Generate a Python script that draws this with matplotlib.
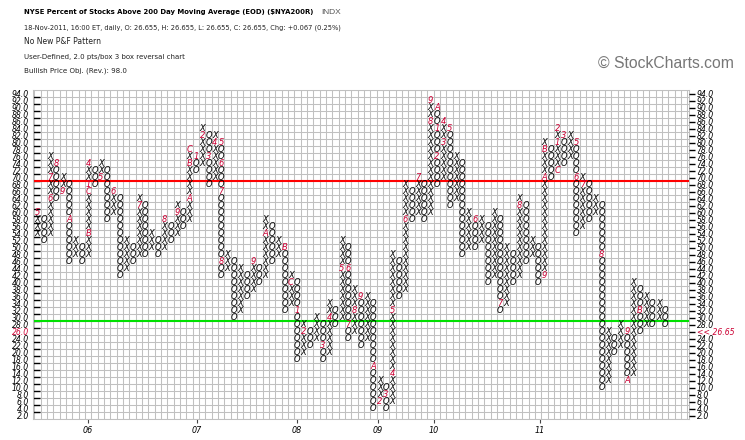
import matplotlib
matplotlib.use("Agg")
import matplotlib.pyplot as plt
from matplotlib import font_manager as fm
import numpy as np

# ---------------- data ----------------
# point & figure columns: kind, lowest box, highest box (box size 2.0)
col_kind = list("XOXOXOXOXOXOXOXOXOXOXOXOXOXOXOXOXOXOXOXOXOXOXOXOXO"
                "XOXOXOXOXOXOXOXOXOXOXOXOXOXOXOXOXOXOXOXOXOXOXOXOXO")
col_low = [54, 52, 54, 64, 66, 46, 48, 46, 48, 68,
           70, 58, 60, 42, 44, 46, 48, 48, 50, 48,
           50, 52, 54, 56, 58, 72, 74, 68, 70, 42,
           44, 30, 32, 36, 38, 40, 42, 46, 48, 32,
           34, 18, 20, 22, 24, 18, 20, 28, 30, 24,
           26, 22, 24, 4, 6, 4, 6, 36, 38, 58,
           60, 58, 60, 68, 70, 62, 64, 48, 50, 50,
           52, 40, 42, 32, 34, 40, 42, 46, 48, 40,
           42, 70, 72, 74, 76, 54, 56, 58, 60, 10,
           12, 20, 22, 12, 14, 26, 28, 28, 30, 28]
col_high = [60, 58, 76, 74, 70, 68, 52, 50, 74, 72,
            74, 72, 66, 64, 52, 50, 64, 62, 54, 52,
            58, 56, 62, 60, 78, 76, 84, 82, 82, 80,
            48, 46, 44, 42, 46, 44, 58, 56, 52, 50,
            42, 40, 28, 26, 30, 28, 34, 32, 52, 50,
            38, 36, 36, 34, 12, 10, 48, 46, 68, 66,
            70, 68, 92, 90, 86, 84, 76, 74, 60, 58,
            58, 56, 60, 58, 50, 48, 64, 62, 52, 50,
            80, 78, 84, 82, 82, 80, 70, 68, 64, 62,
            26, 24, 28, 26, 40, 38, 36, 34, 34, 32]

# month markers (column, box, month code)
mark_col = [0, 2, 2, 3, 4, 5, 8, 8, 8, 8, 10, 12, 16, 20, 22, 24, 24, 24,
            25, 26, 27, 28, 29, 29, 29, 29, 34, 36, 39, 40,
            41, 42, 45, 46, 48, 49, 49, 50, 51, 53,
            54, 55, 56, 56, 58, 60, 62, 62, 63,
            63, 63, 64, 64, 65, 69, 73, 76, 80, 80, 80, 82,
            82, 82, 83, 85, 85, 86, 89, 93, 93, 95]
mark_val = [60, 64, 70, 74, 66, 58, 54, 66, 68, 74, 70, 66, 62, 58, 60, 64, 74, 78,
            76, 82, 76, 80, 80, 74, 66, 46, 46, 54, 50, 40,
            32, 26, 22, 30, 44, 44, 28, 32, 36, 16,
            6, 8, 14, 32, 58, 70, 86, 92, 90,
            84, 76, 80, 86, 84, 58, 34, 62, 42, 70, 78, 72,
            80, 84, 82, 80, 70, 68, 48, 26, 12, 32]
mark_txt = ["5", "6", "7", "8", "9", "A", "B", "C", "1", "4", "5", "6", "7", "8", "9", "A", "B", "C",
            "1", "2", "3", "4", "5", "6", "7", "8", "9", "A", "B", "C",
            "1", "2", "3", "4", "5", "6", "7", "8", "9", "A",
            "2", "3", "4", "5", "6", "7", "8", "9", "A",
            "1", "2", "3", "4", "5", "6", "7", "8", "9", "A", "B", "C",
            "1", "2", "3", "5", "6", "7", "8", "9", "A", "B"]

box_values = list(range(2, 96, 2))          # price boxes 2.0 ... 94.0
year_labels = ["06", "07", "08", "09", "10", "11"]
year_pos = [8.0, 25.2, 40.9, 53.7, 62.5, 79.3]  # column positions of year ticks
red_level = 70
green_level = 30
last_box = 26
last_text = "<< 26.65"

# ---------------- figure ----------------
W, H = 745, 440
fig = plt.figure(figsize=(W / 100, H / 100), dpi=100)
fig.patch.set_facecolor("white")

L, R, T, B = 33, 689, 90, 419
ax = fig.add_axes([L / W, 1 - B / H, (R - L) / W, (B - T) / H])
col_px = 6.34
xmin = -0.7
xmax = xmin + (R - L) / col_px
ax.set_xlim(xmin, xmax)
ax.set_ylim(2, 96)

grid_c = "#c0c0c0"
vx = np.arange(-0.5, xmax, 1.0)
ax.vlines(vx, 2, 96, colors=grid_c, lw=0.75, zorder=1)
ax.hlines(np.arange(2, 97, 2), xmin, xmax, colors=grid_c, lw=0.75, zorder=1)
for s in ax.spines.values():
    s.set_color(grid_c)
    s.set_linewidth(0.75)

ax.axhline(red_level, color="#ff0000", lw=1.5, zorder=2)
ax.axhline(green_level, color="#00e000", lw=1.5, zorder=2)

marks = {}
for c, v, t in zip(mark_col, mark_val, mark_txt):
    marks[(c, v)] = t

for k, (kind, lo, hi) in enumerate(zip(col_kind, col_low, col_high)):
    for v in range(lo, hi + 1, 2):
        if (k, v) in marks:
            ax.text(k, v + 1, marks[(k, v)], ha="center", va="center",
                    fontsize=6.0, style="italic", color="#cc0033", zorder=3)
        else:
            ax.text(k, v + 1, kind, ha="center", va="center",
                    fontsize=6.0, style="italic", color="black", zorder=3)

# y axis, left: labels at box centres, tick dashes on the grid lines
centers = [v + 1 for v in box_values]
ax.set_yticks(centers)
ax.set_yticklabels([f"{v:.1f}" for v in box_values])
ax.set_yticks(box_values[1:], minor=True)
ax.tick_params(axis="y", which="major", left=True, right=False, length=0,
               pad=3, labelsize=5.6)
ax.tick_params(axis="y", which="minor", left=True, right=False, length=5,
               width=1.0, direction="in", color="black")
for lab in ax.get_yticklabels():
    lab.set_fontstyle("italic")
for v, lab in zip(box_values, ax.get_yticklabels()):
    if v == last_box:
        lab.set_color("#cc0033")

# y axis, right
ax2 = ax.twinx()
ax2.set_ylim(2, 96)
ax2.set_yticks(centers)
ax2.set_yticklabels([last_text if v == last_box else f"{v:.1f}" for v in box_values])
ax2.tick_params(axis="y", length=4, width=1.0, direction="out", pad=1.5,
                labelsize=5.6, color="black")
for v, lab in zip(box_values, ax2.get_yticklabels()):
    lab.set_fontstyle("italic")
    if v == last_box:
        lab.set_color("#cc0033")
for s in ax2.spines.values():
    s.set_visible(False)

# x axis: year ticks
ax.set_xticks(year_pos)
ax.set_xticklabels(year_labels)
ax.tick_params(axis="x", length=3, width=0.8, direction="out", pad=2,
               labelsize=5.8, color="#444444")
for lab in ax.get_xticklabels():
    lab.set_fontstyle("italic")

# ---------------- header ----------------
def has_font(name):
    try:
        fm.findfont(fm.FontProperties(family=name), fallback_to_default=False)
        return True
    except Exception:
        return False

narrow = "Liberation Sans Narrow" if has_font("Liberation Sans Narrow") else "DejaVu Sans"
regular = "Liberation Sans" if has_font("Liberation Sans") else "DejaVu Sans"

def ftext(x, y, s, **kw):
    return fig.text(x / W, 1 - y / H, s, va="center", ha="left", parse_math=False, **kw)

t1 = ftext(24, 12, "NYSE Percent of Stocks Above 200 Day Moving Average (EOD) ($NYA200R)",
           fontsize=9, fontweight="bold", family=narrow, color="black")
t1b = ftext(321, 13, "INDX", fontsize=6, family=regular, color="#555555")
t2 = ftext(24, 28, "18-Nov-2011, 16:00 ET, daily, O: 26.655, H: 26.655, L: 26.655, "
           "C: 26.655, Chg: +0.067 (0.25%)", fontsize=7, family=narrow, color="#222222")
t3 = ftext(24, 41, "No New P&F Pattern", fontsize=7, family=narrow, color="#222222")
t4 = ftext(24, 57, "User-Defined, 2.0 pts/box 3 box reversal chart", fontsize=7,
           family=narrow, color="#222222")
t5 = ftext(24, 71, "Bullish Price Obj. (Rev.): 98.0", fontsize=7, family=narrow,
           color="#222222")
t6 = ftext(598, 63, "\u00a9 StockCharts.com", fontsize=8, family=regular, color="#777777")

fig.canvas.draw()
rend = fig.canvas.get_renderer()

def fit(t, w):
    bb = t.get_window_extent(rend)
    if bb.width > 0:
        t.set_fontsize(t.get_fontsize() * w / bb.width)

fit(t1, 292)
fit(t1b, 20)
fit(t2, 315)
fit(t3, 77)
fit(t4, 163)
fit(t5, 103)
fit(t6, 137)

fig.savefig("out.png", dpi=100, facecolor="white")
